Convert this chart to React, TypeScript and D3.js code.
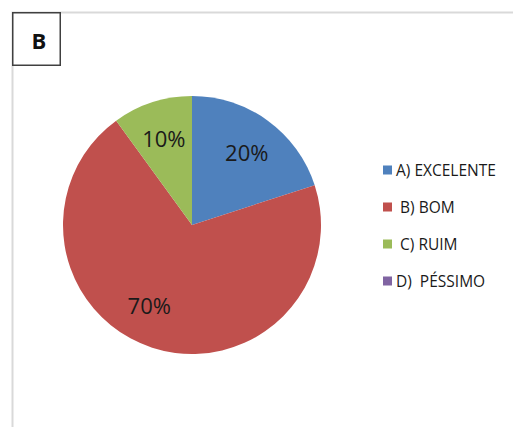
import React from "react";
import * as d3 from "d3";

const categories = ["A) EXCELENTE", " B) BOM", " C) RUIM", "D)  PÉSSIMO"];
const values = [20, 70, 10, 0];
const percentLabels = ["20%", "70%", "10%", ""];
const colors = ["#4F81BD", "#C0504D", "#9BBB59", "#8064A2"];
const panelLetter = "B";

// layout constants
const W = 513;
const H = 427;
const cx = 192;
const cy = 225;
const R = 129;
const labelR = 91;
const labelAngleNudge = [1, 10, 0, 0]; // degrees

export default function App() {
  const pie = d3
    .pie<number>()
    .sort(null)
    .value((d) => d)
    .startAngle(0)
    .endAngle(2 * Math.PI);
  const arcs = pie(values);
  const arcGen = d3.arc<d3.PieArcDatum<number>>().innerRadius(0).outerRadius(R);

  const legendY = d3
    .scalePoint<string>()
    .domain(categories)
    .range([170, 281]);

  const font = "'Open Sans', 'Liberation Sans', sans-serif";

  return (
    <svg
      width={W}
      height={H}
      style={{ position: "absolute", left: 0, top: 0, background: "#fff" }}
    >
      <rect x={0} y={0} width={W} height={H} fill="#fff" />
      {/* outer frame */}
      <rect
        x={12.5}
        y={12.5}
        width={700}
        height={700}
        fill="none"
        stroke="#d9d9d9"
        strokeWidth={2}
      />
      {/* panel letter box */}
      <rect
        x={12.75}
        y={12.75}
        width={47.5}
        height={52.5}
        fill="#fff"
        stroke="#404040"
        strokeWidth={1.5}
      />
      <text
        x={39}
        y={40}
        textAnchor="middle"
        dominantBaseline="central"
        fontFamily={font}
        fontWeight="bold"
        fontSize={22}
        fill="#111"
      >
        {panelLetter}
      </text>

      <g transform={`translate(${cx},${cy})`}>
        {arcs.map((a, i) =>
          a.endAngle > a.startAngle ? (
            <path key={i} d={arcGen(a) || ""} fill={colors[i]} />
          ) : null
        )}
        {arcs.map((a, i) => {
          if (!percentLabels[i]) return null;
          const mid =
            (a.startAngle + a.endAngle) / 2 +
            (labelAngleNudge[i] * Math.PI) / 180;
          const x = labelR * Math.sin(mid);
          const y = -labelR * Math.cos(mid);
          return (
            <text
              key={"l" + i}
              x={x}
              y={y}
              textAnchor="middle"
              dominantBaseline="central"
              fontFamily={font}
              fontSize={22}
              fill="#1a1a1a"
            >
              {percentLabels[i]}
            </text>
          );
        })}
      </g>

      {/* legend */}
      {categories.map((c, i) => {
        const y = legendY(c) as number;
        return (
          <g key={"lg" + i}>
            <rect x={383} y={y - 4.5} width={9} height={9} fill={colors[i]} />
            <text
              x={396}
              y={y}
              dominantBaseline="central"
              fontFamily={font}
              fontSize={15.5}
              fill="#1a1a1a"
              style={{ whiteSpace: "pre" }}
            >
              {c}
            </text>
          </g>
        );
      })}
    </svg>
  );
}
